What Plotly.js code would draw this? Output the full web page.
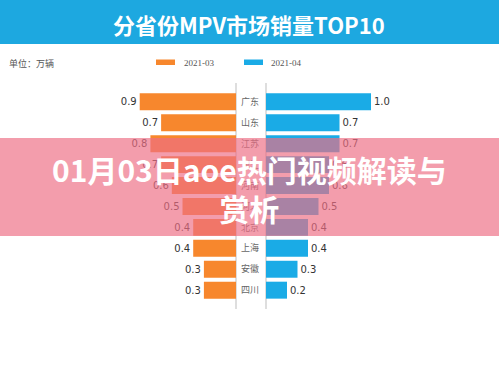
<!DOCTYPE html>
<html><head><meta charset="utf-8">
<script src="https://cdn.plot.ly/plotly-3.0.1.min.js"></script>
<style>html,body{margin:0;padding:0;background:#fff}#c{width:499px;height:374px}</style>
</head><body><div id="c"></div>
<script>
const provinces = ['广东','山东','江苏','浙江','河南','河北','北京','上海','安徽','四川'];
const sales2021_03 = [0.9,0.7,0.8,0.7,0.6,0.5,0.4,0.4,0.3,0.3];
const sales2021_04 = [1.0,0.7,0.7,0.6,0.6,0.5,0.4,0.4,0.3,0.2];
const seriesNames = ['2021-03','2021-04'];
const chartTitle = '分省份MPV市场销量TOP10';
const unitLabel = '单位：万辆';
const overlayText = '01月03日aoe热门视频解读与<br>赏析';

const W=499,H=374,T=83,B=309;
const px = x => x/W;
const py = y => (B-y)/(B-T);
const orange='#F7872D', blue='#1AABE6';
const font='"DejaVu Sans", "Noto Sans CJK SC", sans-serif';

const traces=[
 {type:'bar',orientation:'h',x:sales2021_03,y:provinces,xaxis:'x',yaxis:'y',name:seriesNames[0],
  marker:{color:orange},text:sales2021_03.map(v=>v.toFixed(1)),textposition:'outside',cliponaxis:false,
  textfont:{family:font,size:10,color:'#333'},hoverinfo:'none'},
 {type:'bar',orientation:'h',x:sales2021_04,y:provinces,xaxis:'x2',yaxis:'y',name:seriesNames[1],
  marker:{color:blue},text:sales2021_04.map(v=>v.toFixed(1)),textposition:'outside',cliponaxis:false,
  textfont:{family:font,size:10,color:'#333'},hoverinfo:'none'}
];

const layout={
 width:W,height:H,margin:{l:0,r:0,t:T,b:H-B},paper_bgcolor:'#fff',plot_bgcolor:'rgba(0,0,0,0)',
 showlegend:false,bargap:0.19,
 xaxis:{domain:[px(60),px(236)],range:[1.645,0],visible:false,fixedrange:true},
 xaxis2:{domain:[px(266),px(440)],range:[0,1.657],visible:false,fixedrange:true},
 yaxis:{anchor:'x2',type:'category',range:[9.9,-0.9],showline:false,showgrid:false,zeroline:false,
   ticks:'',ticklabelstandoff:6,tickfont:{family:'"Noto Sans CJK SC", sans-serif',size:9,color:'#666'}},
 shapes:[
  {type:'rect',xref:'paper',yref:'paper',x0:0,x1:1,y0:py(44),y1:py(0),fillcolor:'#1DA8E0',line:{width:0},layer:'below'},
  {type:'line',xref:'paper',yref:'paper',x0:px(236),x1:px(236),y0:0,y1:1,line:{color:'#bdbdbd',width:1},layer:'below'},
  {type:'line',xref:'paper',yref:'paper',x0:px(266),x1:px(266),y0:0,y1:1,line:{color:'#bdbdbd',width:1},layer:'below'},
  {type:'rect',xref:'paper',yref:'paper',x0:px(156),x1:px(175),y0:py(65),y1:py(59.5),fillcolor:orange,line:{width:0}},
  {type:'rect',xref:'paper',yref:'paper',x0:px(244),x1:px(263),y0:py(65),y1:py(59.5),fillcolor:blue,line:{width:0}},
  {type:'rect',xref:'paper',yref:'paper',x0:0,x1:1,y0:py(236),y1:py(138),fillcolor:'rgba(238,110,132,0.68)',line:{width:0},layer:'above'}
 ],
 annotations:[
  {xref:'paper',yref:'paper',x:px(249),y:py(24),text:'<b>'+chartTitle+'</b>',showarrow:false,xanchor:'center',yanchor:'middle',
   font:{family:'"Noto Sans CJK SC", sans-serif',size:22,color:'#fff'}},
  {xref:'paper',yref:'paper',x:px(7),y:py(63),text:unitLabel,showarrow:false,xanchor:'left',yanchor:'middle',
   font:{family:'"Noto Sans CJK SC", serif',size:9,color:'#555'}},
  {xref:'paper',yref:'paper',x:px(182),y:py(62.5),text:seriesNames[0],showarrow:false,xanchor:'left',yanchor:'middle',
   font:{family:'"Liberation Serif", serif',size:9,color:'#555'}},
  {xref:'paper',yref:'paper',x:px(269),y:py(62.5),text:seriesNames[1],showarrow:false,xanchor:'left',yanchor:'middle',
   font:{family:'"Liberation Serif", serif',size:9,color:'#555'}},
  {xref:'paper',yref:'paper',x:px(250),y:py(188),text:'<b>'+overlayText+'</b>',showarrow:false,xanchor:'center',yanchor:'middle',
   font:{family:'"Noto Sans CJK SC", sans-serif',size:30,color:'#fff'}}
 ]
};
Plotly.newPlot('c',traces,layout,{staticPlot:true,displayModeBar:false});
</script></body></html>
